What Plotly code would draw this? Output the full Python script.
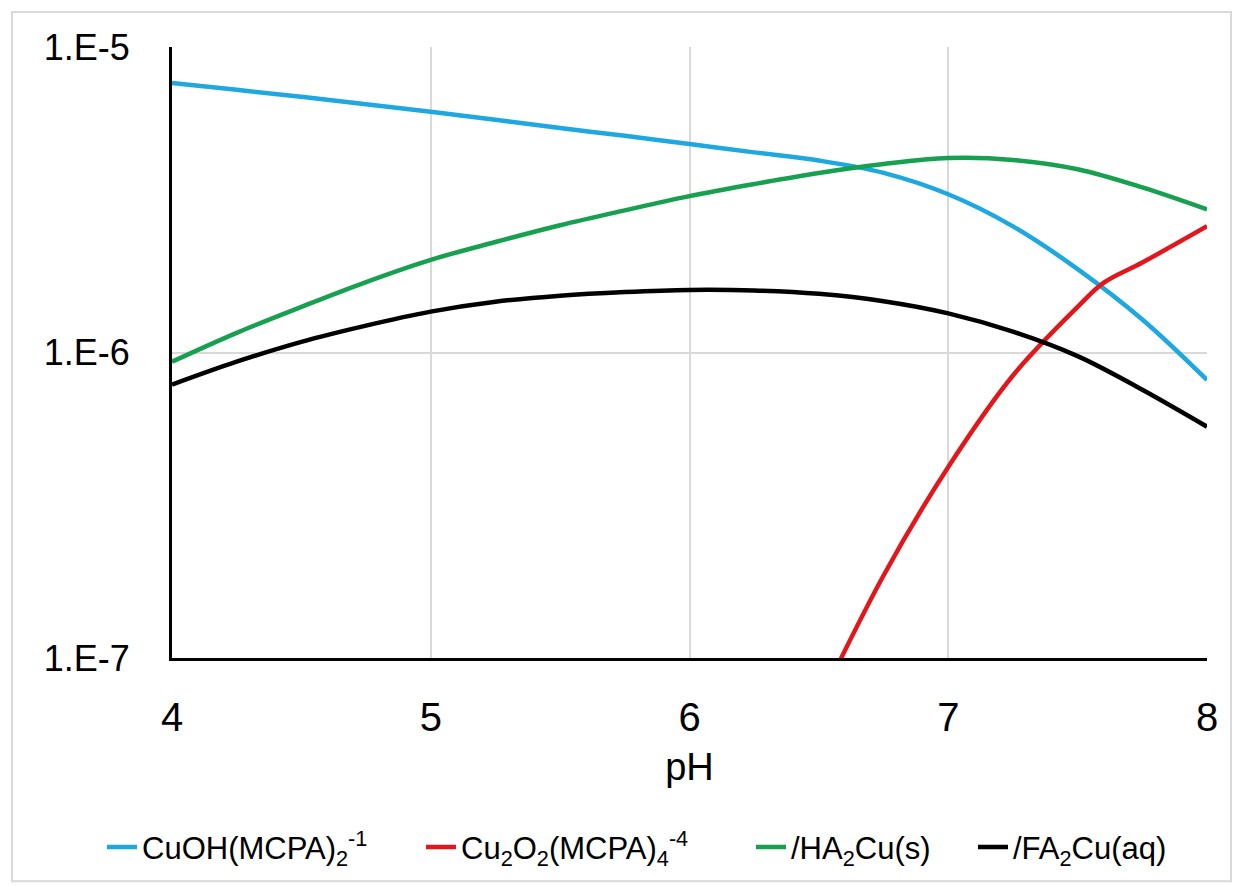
import plotly.graph_objects as go

# ---- data ----
ph_blue = [4.0, 4.25, 4.5, 4.75, 5.0, 5.25, 5.5, 5.75, 6.0, 6.25, 6.5, 6.75,
           7.0, 7.25, 7.5, 7.75, 8.0]
cuoh_mcpa = [7.62e-6, 7.24e-6, 6.87e-6, 6.50e-6, 6.14e-6, 5.78e-6, 5.43e-6,
             5.12e-6, 4.81e-6, 4.52e-6, 4.25e-6, 3.873e-6, 3.296e-6, 2.588e-6,
             1.875e-6, 1.282e-6, 8.128e-7]

ph_red = [6.5, 6.75, 7.0, 7.25, 7.5, 7.6, 7.75, 8.0]
cu2o2_mcpa = [7.08e-8, 1.862e-7, 4.22e-7, 8.41e-7, 1.41e-6, 1.69e-6, 1.97e-6, 2.59e-6]

ph_green = [4.0, 4.25, 4.5, 4.75, 5.0, 5.25, 5.5, 5.75, 6.0, 6.25, 6.5, 6.75,
            7.0, 7.25, 7.5, 7.75, 8.0]
ha2cu_s = [9.33e-7, 1.16e-6, 1.41e-6, 1.70e-6, 2.01e-6, 2.30e-6, 2.61e-6,
           2.92e-6, 3.25e-6, 3.56e-6, 3.87e-6, 4.14e-6, 4.33e-6, 4.27e-6,
           3.98e-6, 3.47e-6, 2.94e-6]

ph_black = [4.0, 4.25, 4.5, 4.75, 5.0, 5.25, 5.5, 5.75, 6.0, 6.25, 6.5, 6.75,
            7.0, 7.25, 7.5, 7.75, 8.0]
fa2cu_aq = [7.852e-7, 9.333e-7, 1.084e-6, 1.225e-6, 1.361e-6, 1.466e-6, 1.535e-6,
            1.578e-6, 1.603e-6, 1.596e-6, 1.556e-6, 1.472e-6, 1.343e-6, 1.170e-6,
            9.727e-7, 7.551e-7, 5.715e-7]

series_names = ["CuOH(MCPA)<sub>2</sub><sup>-1</sup>",
                "Cu<sub>2</sub>O<sub>2</sub>(MCPA)<sub>4</sub><sup>-4</sup>",
                "/HA<sub>2</sub>Cu(s)",
                "/FA<sub>2</sub>Cu(aq)"]
series_colors = ["#1FA8E0", "#E2161B", "#17A050", "#000000"]

x_ticks = [4, 5, 6, 7, 8]
y_tickvals = [1e-7, 1e-6, 1e-5]
y_ticktext = ["1.E-7", "1.E-6", "1.E-5"]

FONT = "Arial, Liberation Sans, sans-serif"

W, H = 1234, 886
L, R, T, B = 172, 27, 47, 226
pw, ph = W - L - R, H - T - B

legend_ids = ["legend", "legend2", "legend3", "legend4"]
legend_text_px = [147, 466, 796, 1018]

fig = go.Figure()
for xs, ys, name, col, lid in zip([ph_blue, ph_red, ph_green, ph_black],
                                  [cuoh_mcpa, cu2o2_mcpa, ha2cu_s, fa2cu_aq],
                                  series_names, series_colors, legend_ids):
    fig.add_trace(go.Scatter(x=xs, y=ys, mode="lines", name=name, legend=lid,
                             line=dict(color=col, width=4.5, shape="spline", smoothing=1.0)))

legend_y = (T + ph - 850) / ph
legends = {}
for lid, tx in zip(legend_ids, legend_text_px):
    legends[lid] = dict(orientation="h", x=(tx - 45 - L) / pw, xanchor="left",
                        y=legend_y, yanchor="middle",
                        font=dict(size=31, family=FONT, color="black"),
                        bgcolor="rgba(0,0,0,0)", borderwidth=0)

fig.update_layout(
    width=W, height=H,
    margin=dict(l=L, r=R, t=T, b=B),
    paper_bgcolor="white", plot_bgcolor="white",
    font=dict(family=FONT, color="black"),
    showlegend=True,
    xaxis=dict(range=[4, 8], tickvals=x_ticks, ticktext=[str(v) for v in x_ticks],
               showgrid=True, gridcolor="#D9D9D9", gridwidth=1.5,
               showline=True, linecolor="black", linewidth=3,
               ticks="", tickfont=dict(size=40, family=FONT),
               ticklabelstandoff=22, zeroline=False,
               title=dict(text="pH", font=dict(size=38, family=FONT), standoff=16)),
    yaxis=dict(type="log", range=[-7, -5], tickvals=y_tickvals, ticktext=y_ticktext,
               showgrid=True, gridcolor="#D9D9D9", gridwidth=1.5,
               showline=True, linecolor="black", linewidth=3,
               ticks="", tickfont=dict(size=36, family=FONT),
               ticklabelstandoff=32, zeroline=False),
    shapes=[dict(type="rect", xref="paper", yref="paper",
                 x0=(12 - L) / pw, x1=(1231 - L) / pw,
                 y0=(T + ph - 884) / ph, y1=(T + ph - 12) / ph,
                 line=dict(color="#D9D9D9", width=2), layer="below")],
    **legends,
)

fig.write_html("out.html", config={"displayModeBar": False},
               post_script="document.body.style.margin='0';document.body.style.overflow='hidden';")
